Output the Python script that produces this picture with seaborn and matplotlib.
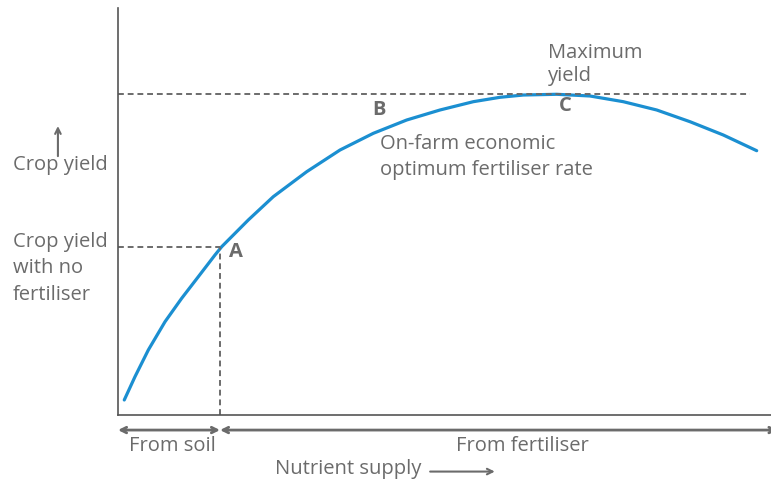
import numpy as np
import pandas as pd
import seaborn as sns
import matplotlib.pyplot as plt

# response curve (nutrient supply vs crop yield, arbitrary units)
supply = [0.96, 2.60, 4.64, 7.20, 9.75, 12.30, 14.85, 15.88, 19.95, 23.78,
          28.90, 34.00, 39.10, 44.21, 49.31, 54.41, 58.50, 62.07, 67.18,
          72.28, 77.38, 82.50, 87.60, 92.69, 97.81]
crop_yield = [3.69, 9.41, 15.97, 22.92, 28.67, 33.98, 39.31, 41.35, 47.91, 53.64,
              59.78, 65.11, 69.21, 72.48, 74.94, 76.98, 78.06, 78.62, 78.80,
              78.38, 76.98, 74.94, 72.06, 68.80, 64.94]

soil_supply = 15.62     # point A
no_fert_yield = 41.35
max_yield = 78.87       # point C
max_line_end = 96.8

df = pd.DataFrame({'supply': supply, 'yield': crop_yield})

sns.set_style('white')
plt.rcParams['font.family'] = ['Open Sans', 'DejaVu Sans']

grey = '#6b6b6b'
blue = '#1b8fd1'

fig = plt.figure(figsize=(7.71, 4.8), dpi=100)
ax = fig.add_axes([118 / 771, 65 / 480, 653 / 771, 407 / 480])

sns.lineplot(data=df, x='supply', y='yield', ax=ax, color=blue, lw=2.3, sort=False)

dash = (0, (3, 2.0))
ax.plot([0, max_line_end], [max_yield, max_yield], ls=dash, color=grey, lw=1.4)
ax.plot([0, soil_supply], [no_fert_yield, no_fert_yield], ls=dash, color=grey, lw=1.4)
ax.plot([soil_supply, soil_supply], [0, no_fert_yield], ls=dash, color=grey, lw=1.4)

ax.set_xlim(0, 100)
ax.set_ylim(0, 100)
ax.set_xticks([])
ax.set_yticks([])
ax.set_xlabel('')
ax.set_ylabel('')
for s in ['top', 'right']:
    ax.spines[s].set_visible(False)
for s in ['left', 'bottom']:
    ax.spines[s].set_color('#555555')
    ax.spines[s].set_linewidth(1.2)

fs = 14.5
kw = dict(color=grey, fontsize=fs, clip_on=False)

# point labels
ax.text(17.0, 40.0, 'A', fontweight='bold', va='center', **kw)
ax.text(39.0, 74.9, 'B', fontweight='bold', va='center', **kw)
ax.text(67.5, 75.9, 'C', fontweight='bold', va='center', **kw)
ax.text(65.8, 86.0, 'Maximum\nyield', va='center', linespacing=1.2, **kw)
ax.text(40.1, 63.4, 'On-farm economic\noptimum fertiliser rate', va='center', linespacing=1.4, **kw)

# y side labels
ax.text(-16.1, 61.4, 'Crop yield', va='center', **kw)
ax.text(-16.1, 36.0, 'Crop yield\nwith no\nfertiliser', va='center', linespacing=1.45, **kw)
ax.annotate('', xy=(-9.2, 71.0), xytext=(-9.2, 63.6), xycoords='data',
            arrowprops=dict(arrowstyle='->', color=grey, lw=1.5, shrinkA=0, shrinkB=0),
            annotation_clip=False)

# bottom labels
arr = dict(arrowstyle='<->', color=grey, lw=2.0, shrinkA=0, shrinkB=0)
ax.annotate('', xy=(0, -3.7), xytext=(soil_supply, -3.7), arrowprops=arr, annotation_clip=False)
ax.annotate('', xy=(soil_supply, -3.7), xytext=(101, -3.7), arrowprops=arr, annotation_clip=False)
ax.text(8.3, -7.6, 'From soil', ha='center', va='center', **kw)
ax.text(61.9, -7.6, 'From fertiliser', ha='center', va='center', **kw)
ax.text(24.0, -13.2, 'Nutrient supply', va='center', **kw)
ax.annotate('', xy=(57.7, -13.9), xytext=(47.8, -13.9),
            arrowprops=dict(arrowstyle='->', color=grey, lw=1.5, shrinkA=0, shrinkB=0),
            annotation_clip=False)

fig.savefig('out.png', dpi=100)
